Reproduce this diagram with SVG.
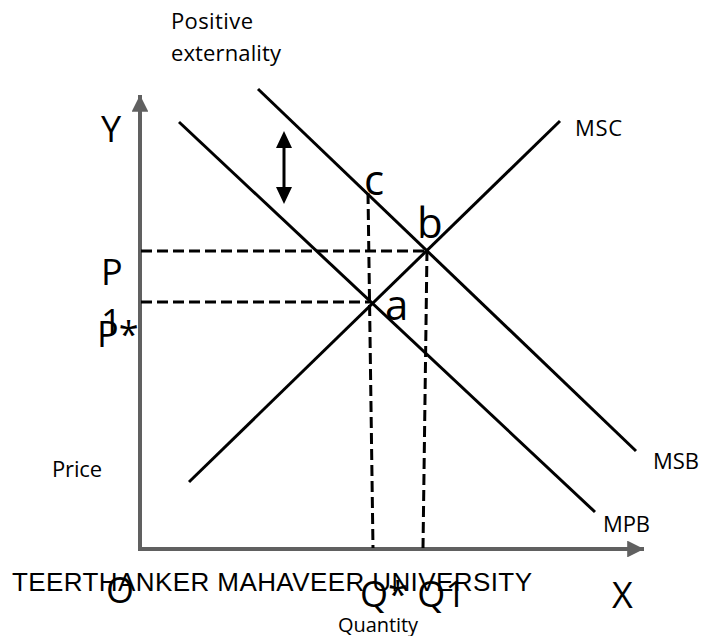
<svg xmlns="http://www.w3.org/2000/svg" width="701" height="636" viewBox="0 0 701 636">
<style>
.axis{stroke:#606060;stroke-width:4;fill:none}
.curve{stroke:#000;stroke-width:3;fill:none}
.dash{stroke:#000;stroke-width:3;fill:none;stroke-dasharray:11 5}
.s{font-family:"Open Sans","Noto Sans",sans-serif;font-size:22px;fill:#000}
.b{font-family:"Open Sans","Noto Sans",sans-serif;font-size:36px;fill:#000}
.pt{font-family:"Open Sans","Noto Sans",sans-serif;font-size:42px;fill:#000}
.w{font-family:"Liberation Sans",Arial,sans-serif;font-size:26px;fill:#000}
</style>
<defs>
<marker id="ga" viewBox="0 0 10 10" refX="10" refY="5" markerWidth="4.2" markerHeight="4.2" markerUnits="strokeWidth" orient="auto">
<path d="M0,0 L10,5 L0,10 z" fill="#606060"/>
</marker>
<marker id="ba" viewBox="0 0 10 10" refX="10" refY="5" markerWidth="5.5" markerHeight="5.2" markerUnits="strokeWidth" orient="auto">
<path d="M0,0 L10,5 L0,10 z" fill="#000"/>
</marker>
</defs>
<g id="axes">
<line class="axis" x1="140" y1="551" x2="140" y2="95" marker-end="url(#ga)"/>
<line class="axis" x1="138" y1="549" x2="644" y2="549" marker-end="url(#ga)"/>
</g>
<g id="connectors">
<line class="dash" x1="141" y1="251" x2="427" y2="251"/>
<line class="dash" x1="141" y1="302" x2="371" y2="302"/>
<line class="dash" x1="368" y1="193" x2="373" y2="548"/>
<line class="dash" x1="427" y1="250" x2="423" y2="548"/>
</g>
<g id="MPB">
<line class="curve" x1="179" y1="122" x2="595" y2="512"/>
<text class="s" x="603" y="532" textLength="47">MPB</text>
</g>
<g id="MSB">
<line class="curve" x1="258" y1="89" x2="636" y2="451"/>
<text class="s" x="653" y="469" textLength="46">MSB</text>
</g>
<g id="MSC">
<line class="curve" x1="189" y1="482" x2="560" y2="121"/>
<text class="s" x="575" y="136" textLength="47">MSC</text>
</g>
<g id="externality">
<line class="curve" x1="284" y1="146" x2="284" y2="189"/>
<path d="M276,148 L284,131 L292,148 Z M276,187 L284,204 L292,187 Z" fill="#000"/>
<text class="s" x="171" y="29" textLength="82">Positive</text>
<text class="s" x="171" y="61" textLength="110">externality</text>
</g>
<g id="labels">
<text class="b" x="101" y="142">Y</text>
<text class="b" x="101" y="285">P</text>
<text class="b" x="101" y="335">1</text>
<text class="b" x="97" y="347">P*</text>
<text class="s" x="52" y="477" textLength="50">Price</text>
<text class="pt" x="364" y="195">c</text>
<text class="pt" x="417" y="238">b</text>
<text class="pt" x="385" y="320">a</text>
<text class="w" x="12" y="591" textLength="520">TEERTHANKER MAHAVEER UNIVERSITY</text>
<text class="b" x="106" y="603">O</text>
<text class="b" x="360" y="607">Q* Q1</text>
<text class="b" x="612" y="608">X</text>
<text class="s" x="338" y="632" style="font-size:20px" textLength="80">Quantity</text>
</g>
</svg>
